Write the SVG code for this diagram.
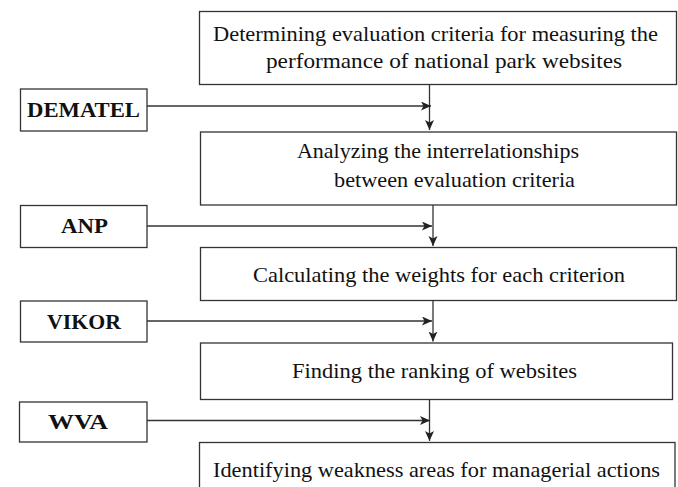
<svg xmlns="http://www.w3.org/2000/svg" width="678" height="487" viewBox="0 0 678 487">
<style>
.box{fill:#fff;stroke:#333;stroke-width:1.3}
.t{font-family:"Liberation Serif","Times New Roman",serif;font-size:21px;fill:#111}
.b{font-family:"Liberation Serif","Times New Roman",serif;font-size:22px;font-weight:bold;fill:#111}
.c{fill:none;stroke:#333;stroke-width:1.3}
</style>
<defs>
<marker id="ah" markerUnits="userSpaceOnUse" markerWidth="12" markerHeight="10" refX="10" refY="4.5" orient="auto">
<path d="M0,0 L10,4.5 L0,9 L2.5,4.5 z" fill="#222"/>
</marker>
</defs>
<rect width="678" height="487" fill="#fff"/>
<g id="n1"><rect class="box" x="199.5" y="11.5" width="477" height="73"/>
<text class="t" x="213" y="40.5" textLength="445" lengthAdjust="spacingAndGlyphs">Determining evaluation criteria for measuring the</text>
<text class="t" x="266" y="67.5" textLength="356" lengthAdjust="spacingAndGlyphs">performance of national park websites</text></g>
<g id="n2"><rect class="box" x="200.5" y="132" width="476" height="73"/>
<text class="t" x="297" y="158" textLength="282" lengthAdjust="spacingAndGlyphs">Analyzing the interrelationships</text>
<text class="t" x="334" y="186.5" textLength="241" lengthAdjust="spacingAndGlyphs">between evaluation criteria</text></g>
<g id="n3"><rect class="box" x="200.5" y="247.5" width="476" height="53"/>
<text class="t" x="253" y="282" textLength="372" lengthAdjust="spacingAndGlyphs">Calculating the weights for each criterion</text></g>
<g id="n4"><rect class="box" x="200.5" y="343" width="472" height="56.5"/>
<text class="t" x="292" y="378" textLength="285" lengthAdjust="spacingAndGlyphs">Finding the ranking of websites</text></g>
<g id="n5"><rect class="box" x="199.5" y="442.5" width="475.5" height="50"/>
<text class="t" x="213" y="476.5" textLength="447" lengthAdjust="spacingAndGlyphs">Identifying weakness areas for managerial actions</text></g>
<g id="dematel"><rect class="box" x="20.5" y="89" width="126.5" height="42"/>
<text class="b" x="27" y="116.5" textLength="113" lengthAdjust="spacingAndGlyphs">DEMATEL</text></g>
<g id="anp"><rect class="box" x="20.5" y="205.5" width="126.5" height="42"/>
<text class="b" x="61" y="233" textLength="47" lengthAdjust="spacingAndGlyphs">ANP</text></g>
<g id="vikor"><rect class="box" x="20.5" y="301" width="126.5" height="41"/>
<text class="b" x="47" y="328.5" textLength="74" lengthAdjust="spacingAndGlyphs">VIKOR</text></g>
<g id="wva"><rect class="box" x="19.5" y="402" width="127.5" height="40"/>
<text class="b" x="48" y="428.5" textLength="60" lengthAdjust="spacingAndGlyphs">WVA</text></g>
<g id="connectors">
<path class="c" d="M429.5,84.5 V130" marker-end="url(#ah)"/>
<path class="c" d="M147,106 H431" marker-end="url(#ah)"/>
<path class="c" d="M433,205 V246" marker-end="url(#ah)"/>
<path class="c" d="M147,226 H432" marker-end="url(#ah)"/>
<path class="c" d="M433,300.5 V341.5" marker-end="url(#ah)"/>
<path class="c" d="M147,321 H432" marker-end="url(#ah)"/>
<path class="c" d="M429.5,399.5 V441" marker-end="url(#ah)"/>
<path class="c" d="M147,420.5 H430" marker-end="url(#ah)"/>
</g>
</svg>
